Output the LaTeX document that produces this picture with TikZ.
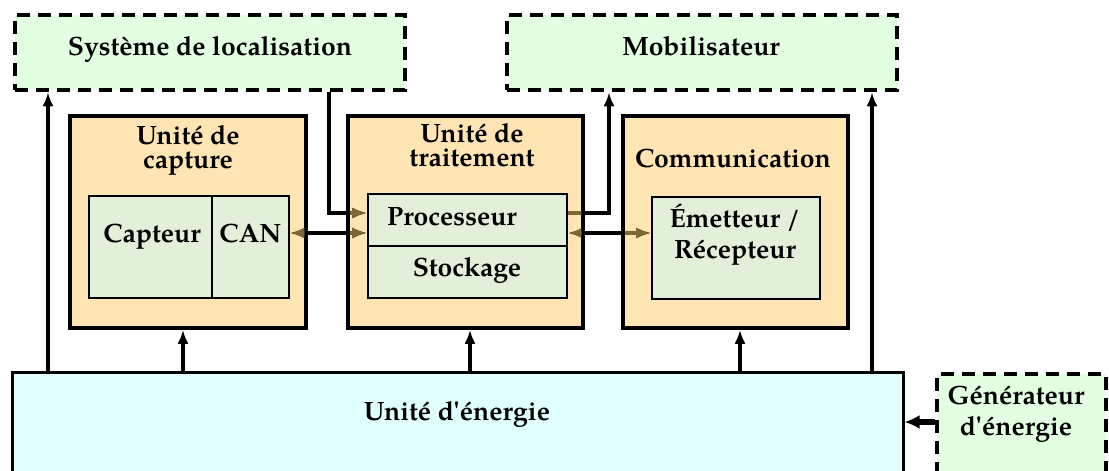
\documentclass[tikz,border=0pt]{standalone}
\usepackage{fontspec}
\setmainfont{texgyrepagella}[Extension=.otf,UprightFont=*-regular,BoldFont=*-bold]
\usetikzlibrary{arrows.meta}
\definecolor{dashfill}{RGB}{226,255,226}
\definecolor{orangefill}{RGB}{255,229,180}
\definecolor{innerfill}{RGB}{226,239,217}
\definecolor{nrjfill}{RGB}{224,255,255}
\definecolor{brownline}{RGB}{128,102,51}
\tikzset{
  ext/.style={draw=black,fill=dashfill,line width=4.5pt,dash pattern=on 13pt off 8pt,inner sep=0pt},
  unit/.style={draw=black,fill=orangefill,line width=3.5pt,inner sep=0pt},
  part/.style={draw=black,fill=innerfill,line width=2pt,inner sep=0pt},
  nrjbox/.style={draw=black,fill=nrjfill,line width=3pt,inner sep=0pt},
  lbl/.style={inner sep=0pt,anchor=base,align=center,font=\bfseries\fontsize{26.5}{23.5}\selectfont},
  lbl2/.style={lbl,font=\bfseries\fontsize{26.5}{30.5}\selectfont},
  conn/.style={line width=3.5pt,-{Latex[length=14pt,width=11pt]}},
  bconn/.style={line width=3.5pt,{Latex[length=15pt,width=11pt]}-{Latex[length=15pt,width=11pt]}},
  pconn/.style={line width=3.5pt,-{Latex[length=15pt,width=11pt]}},
}
\begin{document}
\begin{tikzpicture}[x=1pt,y=-1pt]
\clip (0,0) rectangle (1109,471);
\useasboundingbox (0,0) rectangle (1109,471);
% external boxes
\node[ext,minimum width=390pt,minimum height=75pt] (loc) at (210,52.5) {};
\node[ext,minimum width=390pt,minimum height=75pt] (mob) at (702,52.5) {};
\node[ext,minimum width=169pt,minimum height=120pt] (gen) at (1021.5,434) {};
% units
\node[unit,minimum width=236pt,minimum height=212pt] (cap) at (188,222) {};
\node[unit,minimum width=235pt,minimum height=212pt] (trt) at (465.5,222) {};
\node[unit,minimum width=225pt,minimum height=212pt] (com) at (735.5,222) {};
% parts
\node[part,minimum width=123pt,minimum height=102pt] (capteur) at (150.5,247) {};
\node[part,minimum width=77pt,minimum height=102pt] (can) at (250.5,247) {};
\node[part,minimum width=199pt,minimum height=52pt] (proc) at (467.5,220) {};
\node[part,minimum width=199pt,minimum height=52pt] (stock) at (467.5,272) {};
\node[part,minimum width=168pt,minimum height=102pt] (emet) at (736,248) {};
% energy
\node[nrjbox,minimum width=891pt,minimum height=124pt] (nrj) at (457.5,434) {};
% labels (anchor base = baseline of the last line)
\node[lbl] (tloc) at (210,55) {Système de localisation};
\node[lbl] (tmob) at (701,55) {Mobilisateur};
\node[lbl] (tcap) at (188,168) {Unité de\\capture};
\node[lbl] (ttrt) at (472,166) {Unité de\\traitement};
\node[lbl] (tcom) at (733,167) {Communication};
\node[lbl] (tcapteur) at (152,242) {Capteur};
\node[lbl] (tcan) at (250.5,242) {CAN};
\node[lbl] (tproc) at (452,225) {Processeur};
\node[lbl] (tstock) at (467,276) {Stockage};
\node[lbl2] (temet) at (735,258) {Émetteur /\\Récepteur};
\node[lbl] (tnrj) at (457,420) {Unité d\textquotesingle énergie};
\node[lbl2] (tgen) at (1016,435) {Générateur\\d\textquotesingle énergie};
% connectors
\coordinate (yA) at (0,213);
\coordinate (yB) at (0,233);
\coordinate (yG) at (0,422);
\draw[conn] (nrj.north -| 48,0) -- (loc.south -| 48,0);
\draw[conn] (nrj.north -| 183,0) -- (cap.south -| 183,0);
\draw[conn] (nrj.north -| 470,0) -- (trt.south -| 470,0);
\draw[conn] (nrj.north -| 740,0) -- (com.south -| 740,0);
\draw[conn] (nrj.north -| 872,0) -- (mob.south -| 872,0);
\draw[line width=5.5pt,-{Latex[length=15pt,width=14pt]}] (gen.west |- yG) -- (nrj.east |- yG);
\newcommand{\innerlinks}[1]{%
  \draw[pconn,#1] (loc.south -| 329,0) |- (proc.west |- yA);
  \draw[conn,#1] (proc.east |- yA) -| (mob.south -| 609,0);
  \draw[bconn,#1] (can.east |- yB) -- (proc.west |- yB);
  \draw[bconn,#1] (proc.east |- yB) -- (emet.west |- yB);
}
\innerlinks{black}
\begin{scope}
  \clip (71.75,117.75) rectangle (304.25,326.25)
        (349.75,117.75) rectangle (581.25,326.25)
        (624.75,117.75) rectangle (846.25,326.25);
  \innerlinks{brownline}
\end{scope}
\end{tikzpicture}
\end{document}
